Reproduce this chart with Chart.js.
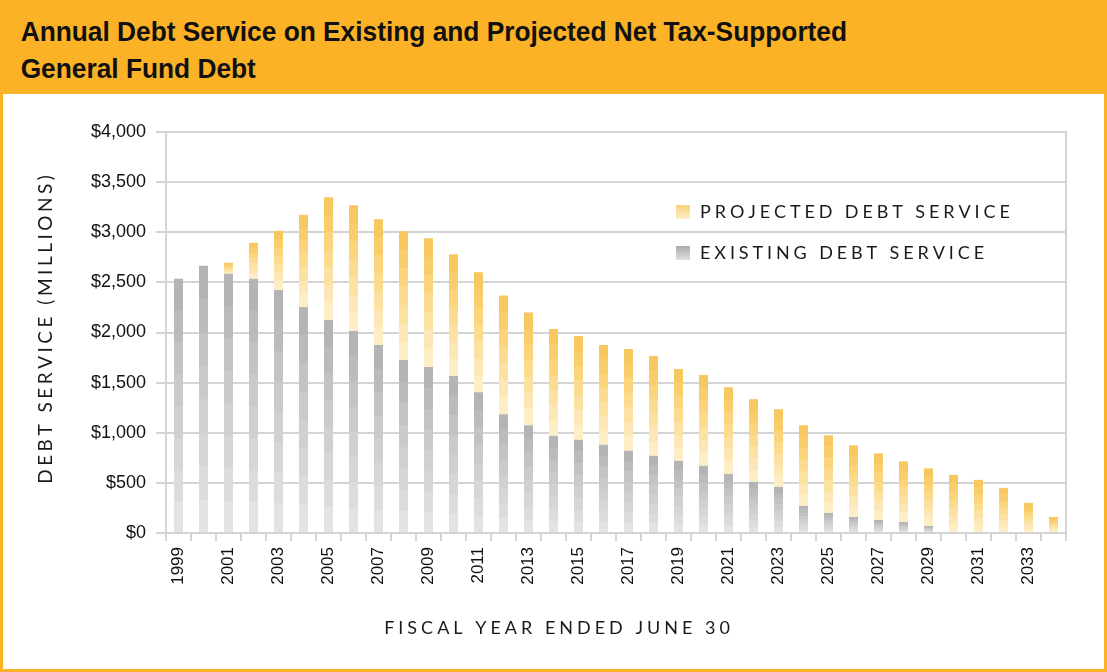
<!DOCTYPE html>
<html>
<head>
<meta charset="utf-8">
<title>Annual Debt Service</title>
<script src="https://cdn.jsdelivr.net/npm/chart.js@4.4.1/dist/chart.umd.min.js"></script>
<style>
  html, body { margin: 0; padding: 0; background: #fff; }
  #frame {
    position: relative; width: 1107px; height: 672px; box-sizing: border-box;
    border: 3px solid #fcb227; border-top: none; background: #fff; overflow: hidden;
  }
  #head {
    position: absolute; left: -3px; top: 0; width: 1107px; height: 94px;
    background: #fcb227; z-index: 2;
  }
  #head h1 {
    margin: 0; padding: 13px 0 0 22px; color: #111; white-space: nowrap;
    font: bold 28px 'Liberation Sans', Arial, sans-serif;
    line-height: 37px; transform-origin: 0 0;
  }
  #chart { position: absolute; left: -3px; top: 0; z-index: 1; }
</style>
</head>
<body>
<div id="frame">
  <div id="head"><h1 id="title">Annual Debt Service on Existing and Projected Net Tax-Supported<br>General Fund Debt</h1></div>
  <canvas id="chart" width="1107" height="672"></canvas>
</div>
<script>
const years = [
    '1999', '2000', '2001', '2002', '2003', '2004', '2005', '2006', '2007',
    '2008', '2009', '2010', '2011', '2012', '2013', '2014', '2015', '2016',
    '2017', '2018', '2019', '2020', '2021', '2022', '2023', '2024', '2025',
    '2026', '2027', '2028', '2029', '2030', '2031', '2032', '2033', '2034'
];

// $ millions
const existing = [
    2535, 2665, 2585, 2535, 2425, 2255, 2125, 2015, 1875,
    1725, 1655, 1565, 1405, 1185, 1075, 970, 930, 880,
    820, 770, 720, 670, 590, 510, 460, 270, 200,
    160, 130, 110, 70, 0, 0, 0, 0, 0
];

const projected = [
    0, 0, 110, 360, 590, 920, 1225, 1255, 1255,
    1285, 1285, 1215, 1195, 1185, 1125, 1065, 1035, 995,
    1015, 995, 915, 905, 865, 825, 775, 805, 775,
    715, 665, 605, 575, 580, 530, 450, 300, 160
];

const yTicks = [0, 500, 1000, 1500, 2000, 2500, 3000, 3500, 4000];

const grayBands = ['#b4b4b4', '#bbbbbb', '#c3c3c3', '#cacaca', '#d0d0d0', '#d6d6d6', '#dcdcdc', '#e3e3e3'];
const goldBands = ['#f7c760', '#f9cd6c', '#fbd47b', '#fbdb8e', '#fce1a3', '#fde7b6', '#fdeec6'];
const gridGray = '#d4d4d4';

// squeeze the heading into a narrow face
(function () {
    const h = document.getElementById('title');
    const m = document.createElement('canvas').getContext('2d');
    m.font = 'bold 28px "Liberation Sans", Arial, sans-serif';
    const w = m.measureText('Annual Debt Service on Existing and Projected Net Tax-Supported').width;
    h.style.transform = 'scaleX(' + (826 / w).toFixed(3) + ')';
})();

// stepped vertical gradient spanning one bar segment
function bandedFill(chart, from, to, bands) {
    const y = chart.scales.y;
    if (!y) return bands[0];
    const top = y.getPixelForValue(to);
    const bottom = y.getPixelForValue(from);
    if (!isFinite(top) || bottom - top < 1) return bands[0];
    const g = chart.ctx.createLinearGradient(0, top, 0, bottom);
    const n = bands.length;
    bands.forEach((c, k) => {
        g.addColorStop(k / n, c);
        g.addColorStop((k + 1) / n, c);
    });
    return g;
}

function spacedText(ctx, text, x, y, spacing) {
    let w = 0;
    for (const ch of text) w += ctx.measureText(ch).width + spacing;
    w -= spacing;
    let cx = x - w / 2;
    for (const ch of text) {
        ctx.fillText(ch, cx, y);
        cx += ctx.measureText(ch).width + spacing;
    }
}

function swatch(ctx, x, y, size, bands) {
    const g = ctx.createLinearGradient(0, y, 0, y + size);
    g.addColorStop(0, bands[0]);
    g.addColorStop(1, bands[bands.length - 1]);
    ctx.fillStyle = g;
    ctx.fillRect(x, y, size, size);
}

// letter-spaced axis titles and the legend inside the plot
const decorations = {
    id: 'decorations',
    afterDraw(chart) {
        const ctx = chart.ctx;
        const area = chart.chartArea;
        ctx.save();
        ctx.fillStyle = '#1a1a1a';
        ctx.textBaseline = 'middle';
        ctx.textAlign = 'left';

        ctx.font = '18px Lato, sans-serif';
        spacedText(ctx, 'FISCAL YEAR ENDED JUNE 30', 557, 628, 4.0);

        ctx.save();
        ctx.translate(46, (area.top + area.bottom) / 2 - 3);
        ctx.rotate(-Math.PI / 2);
        ctx.font = '19px Lato, sans-serif';
        spacedText(ctx, 'DEBT SERVICE (MILLIONS)', 0, 0, 3.5);
        ctx.restore();

        const legend = [
            { label: 'PROJECTED DEBT SERVICE', bands: ['#f9d27a', '#fdefc8'], y: 212 },
            { label: 'EXISTING DEBT SERVICE', bands: ['#a9a9a9', '#e0e0e0'], y: 253 }
        ];
        ctx.font = '18px Lato, sans-serif';
        legend.forEach(item => {
            swatch(ctx, 676, item.y - 7, 14, item.bands);
            ctx.fillStyle = '#1a1a1a';
            let cx = 700;
            for (const ch of item.label) {
                ctx.fillText(ch, cx, item.y);
                cx += ctx.measureText(ch).width + 3.9;
            }
        });
        ctx.restore();
    }
};

new Chart(document.getElementById('chart'), {
    type: 'bar',
    data: {
        labels: years,
        datasets: [
            {
                label: 'Existing Debt Service',
                data: existing,
                backgroundColor: c => bandedFill(c.chart, 0, existing[c.dataIndex], grayBands)
            },
            {
                label: 'Projected Debt Service',
                data: projected,
                backgroundColor: c => bandedFill(c.chart, existing[c.dataIndex],
                    existing[c.dataIndex] + projected[c.dataIndex], goldBands)
            }
        ]
    },
    options: {
        responsive: false,
        animation: false,
        layout: { padding: { top: 132, right: 41, left: 0, bottom: 0 } },
        datasets: {
            bar: { barPercentage: 0.36, categoryPercentage: 1, borderWidth: 0 }
        },
        plugins: {
            legend: { display: false },
            tooltip: { enabled: false }
        },
        scales: {
            x: {
                stacked: true,
                offset: true,
                afterFit: s => { s.height = 139; },
                grid: { offset: true, drawOnChartArea: false, tickLength: 8, color: gridGray, lineWidth: 2 },
                border: { color: gridGray, width: 2 },
                ticks: {
                    autoSkip: false,
                    maxRotation: 90,
                    minRotation: 90,
                    padding: 6,
                    color: '#111',
                    font: { family: 'Liberation Sans, Arial, sans-serif', size: 17 },
                    callback: (v, i) => (i % 2 === 0 ? years[i] : '')
                }
            },
            y: {
                stacked: true,
                min: 0,
                max: 4000,
                afterFit: s => { s.width = 166; },
                afterBuildTicks: s => { s.ticks = yTicks.map(v => ({ value: v })); },
                grid: { color: gridGray, lineWidth: 2, tickLength: 10 },
                border: { color: gridGray, width: 2 },
                ticks: {
                    padding: 10,
                    color: '#111',
                    font: { family: 'Liberation Sans, Arial, sans-serif', size: 18 },
                    callback: v => '$' + v.toLocaleString('en-US')
                }
            },
            edge: {
                position: 'right',
                min: 0,
                max: 4000,
                afterFit: s => { s.width = 0; },
                grid: { display: false },
                ticks: { display: false },
                border: { color: gridGray, width: 2 }
            }
        }
    },
    plugins: [decorations]
});
</script>
</body>
</html>
